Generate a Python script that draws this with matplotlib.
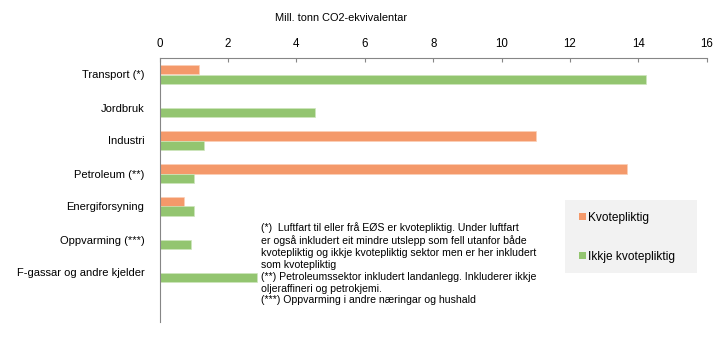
import matplotlib.pyplot as plt
import numpy as np
from matplotlib.patches import Patch, Rectangle

plt.rcParams['font.family'] = ['Liberation Sans', 'DejaVu Sans']

categories = ["Transport (*)", "Jordbruk", "Industri", "Petroleum (**)",
              "Energiforsyning", "Oppvarming (***)", "F-gassar og andre kjelder"]
kvotepliktig = [1.14, 0.0, 11.0, 13.66, 0.70, 0.0, 0.0]
ikkje_kvotepliktig = [14.22, 4.55, 1.31, 1.00, 1.01, 0.91, 2.85]
series_labels = ["Kvotepliktig", "Ikkje kvotepliktig"]
xticks = [0, 2, 4, 6, 8, 10, 12, 14, 16]

footnote = ("(*)  Luftfart til eller frå EØS er kvotepliktig. Under luftfart\n"
            "er også inkludert eit mindre utslepp som fell utanfor både\n"
            "kvotepliktig og ikkje kvotepliktig sektor men er her inkludert\n"
            "som kvotepliktig\n"
            "(**) Petroleumssektor inkludert landanlegg. Inkluderer ikkje\n"
            "oljeraffineri og petrokjemi.\n"
            "(***) Oppvarming i andre næringar og hushald")

orange = "#f4996a"
green = "#93c570"
grey = "#868686"

W, H = 724, 341
fig = plt.figure(figsize=(7.24, 3.41), dpi=100)
ax = fig.add_axes([159.7 / W, 1 - 322 / H, (706.7 - 159.7) / W, (322 - 58) / H])

y = np.arange(len(categories))
h = 0.28
ax.barh(y - h / 2, kvotepliktig, height=h, color=orange, edgecolor="#fbd0b8", linewidth=0.5)
ax.barh(y + h / 2, ikkje_kvotepliktig, height=h, color=green, edgecolor="#cfe6bd", linewidth=0.5)

ax.set_xlim(0, 16)
ax.set_ylim(7.5, -0.5)
ax.set_xticks(xticks)
ax.set_yticks(y)
ax.set_yticklabels(categories, fontsize=8.0)
ax.xaxis.tick_top()
ax.tick_params(axis="x", direction="in", length=3, color=grey, labelsize=8.3, pad=6)
ax.tick_params(axis="y", length=0, pad=11)
for s in ["right", "bottom"]:
    ax.spines[s].set_visible(False)
for s in ["top", "left"]:
    ax.spines[s].set_color(grey)
    ax.spines[s].set_linewidth(0.8)

fig.text(275 / W, 1 - 18 / H, "Mill. tonn CO2-ekvivalentar", fontsize=7.9,
         ha="left", va="center")

fig.text(261 / W, 1 - 222 / H, footnote, fontsize=7.55, ha="left", va="top",
         linespacing=1.24)

# legend background box
fig.patches.append(Rectangle((565 / W, 1 - 273 / H), 132 / W, 73 / H,
                             transform=fig.transFigure, facecolor="#f2f2f2",
                             edgecolor="none", zorder=0))

handles = [Patch(facecolor=orange), Patch(facecolor=green)]
leg = fig.legend(handles, series_labels, loc="upper left",
                 bbox_to_anchor=(579 / W, 1 - 212 / H),
                 fontsize=8.6, frameon=False, handlelength=0.55,
                 handleheight=0.55, handletextpad=0.2, labelspacing=2.25,
                 borderpad=0, borderaxespad=0)

fig.savefig("out.png", dpi=100)
